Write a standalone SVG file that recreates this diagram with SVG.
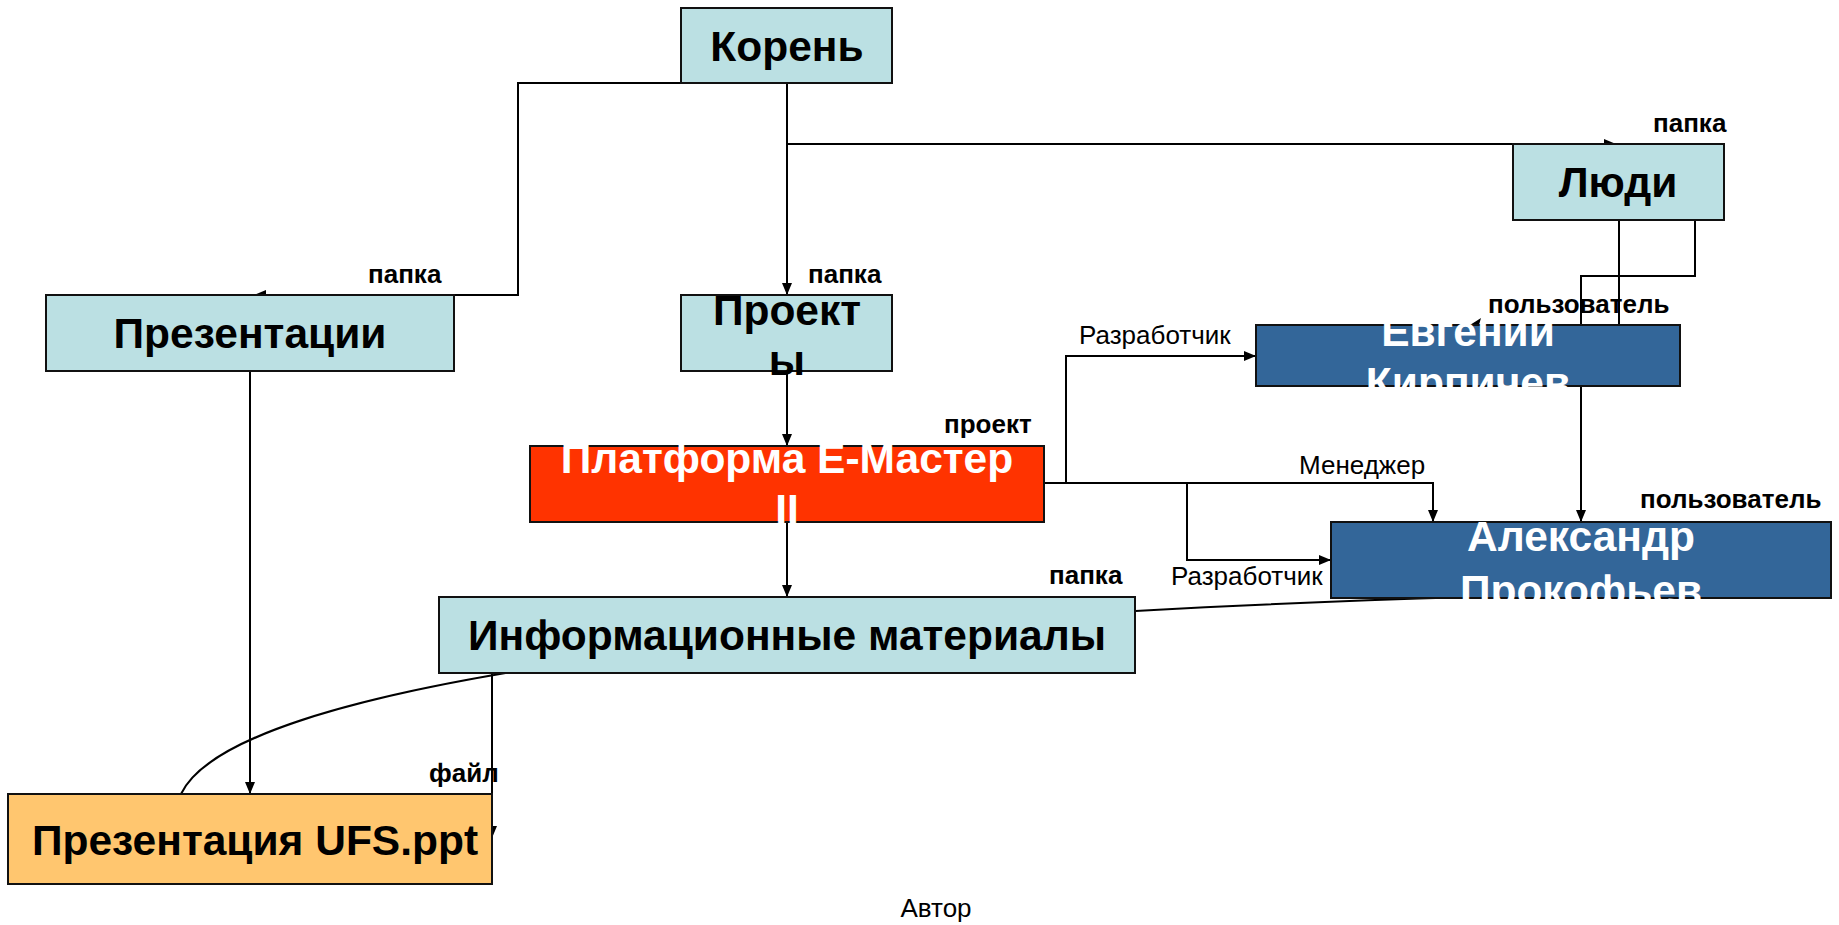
<svg xmlns="http://www.w3.org/2000/svg" width="1839" height="925" viewBox="0 0 1839 925">
<style>
.box{stroke:#111;stroke-width:2}
.teal{fill:#bbe0e3}
.blue{fill:#336699}
.red{fill:#ff3300}
.orange{fill:#ffc66f}
.nt{font-family:"Liberation Sans",Arial,sans-serif;font-weight:bold;font-size:42.5px;text-anchor:middle}
.dark{fill:#000}
.white{fill:#fff}
.lb{font-family:"Liberation Sans",Arial,sans-serif;font-weight:bold;font-size:26px;fill:#000}
.ln{font-family:"Liberation Sans",Arial,sans-serif;font-size:26px;fill:#000}
.c{fill:none;stroke:#000;stroke-width:2}
</style>
<defs>
<marker id="arr" viewBox="0 0 12 10" refX="12" refY="5" markerWidth="12" markerHeight="10" markerUnits="userSpaceOnUse" orient="auto"><path d="M0,0 L12,5 L0,10 z" fill="#000"/></marker>
</defs>
<rect width="1839" height="925" fill="#fff"/>
<g id="connectors">
<path class="c" d="M681 83 H518 V295 H254" marker-end="url(#arr)"/>
<path class="c" d="M787 83 V295" marker-end="url(#arr)"/>
<path class="c" d="M787 144 H1616" marker-end="url(#arr)"/>
<path class="c" d="M787 371 V446" marker-end="url(#arr)"/>
<path class="c" d="M787 522 V597" marker-end="url(#arr)"/>
<path class="c" d="M250 371 V794" marker-end="url(#arr)"/>
<path class="c" d="M492 673 V838" marker-end="url(#arr)"/>
<path class="c" d="M1044 483 H1066 V356 H1256" marker-end="url(#arr)"/>
<path class="c" d="M1044 483 H1433 V522" marker-end="url(#arr)"/>
<path class="c" d="M1187 483 V560 H1331" marker-end="url(#arr)"/>
<path class="c" d="M1619 220 V325"/>
<path class="c" d="M1695 220 V276 H1581 V522" marker-end="url(#arr)"/>
<path class="c" d="M181 794 C230 690 700 620 1470 597"/>
<polygon points="1470,325 1481,318 1479,325" fill="#000"/>
</g>
<g id="n-koren"><rect class="box teal" x="681" y="8" width="211" height="75"/><text class="nt dark" x="787" y="61">Корень</text></g>
<g id="n-lyudi"><rect class="box teal" x="1513" y="144" width="211" height="76"/><text class="nt dark" x="1618" y="197">Люди</text></g>
<g id="n-prezentacii"><rect class="box teal" x="46" y="295" width="408" height="76"/><text class="nt dark" x="250" y="348">Презентации</text></g>
<g id="n-proekty"><rect class="box teal" x="681" y="295" width="211" height="76"/><text class="nt dark" x="787" y="325">Проект<tspan x="787" dy="50">ы</tspan></text></g>
<g id="n-platforma"><rect class="box red" x="530" y="446" width="514" height="76"/><text class="nt white" x="787" y="473">Платформа Е-Мастер<tspan x="787" dy="51">II</tspan></text></g>
<g id="n-evgeniy"><rect class="box blue" x="1256" y="325" width="424" height="61"/><text class="nt white" x="1468" y="346">Евгений<tspan x="1468" dy="51">Кирпичев</tspan></text></g>
<g id="n-aleksandr"><rect class="box blue" x="1331" y="522" width="500" height="76"/><text class="nt white" x="1581" y="551">Александр<tspan x="1581" dy="54">Прокофьев</tspan></text></g>
<g id="n-info"><rect class="box teal" x="439" y="597" width="696" height="76"/><text class="nt dark" x="787" y="650">Информационные материалы</text></g>
<g id="n-ufs"><rect class="box orange" x="8" y="794" width="484" height="90"/><text class="nt dark" x="255" y="855">Презентация UFS.ppt</text></g>
<g id="labels">
<text class="lb" x="368" y="283">папка</text>
<text class="lb" x="808" y="283">папка</text>
<text class="lb" x="1653" y="132">папка</text>
<text class="lb" x="1488" y="313">пользователь</text>
<text class="ln" x="1079" y="344">Разработчик</text>
<text class="lb" x="944" y="433">проект</text>
<text class="ln" x="1299" y="474">Менеджер</text>
<text class="lb" x="1640" y="508">пользователь</text>
<text class="ln" x="1171" y="585">Разработчик</text>
<text class="lb" x="1049" y="584">папка</text>
<text class="lb" x="429" y="782">файл</text>
<text class="ln" x="936" y="917" text-anchor="middle">Автор</text>
</g>
</svg>
